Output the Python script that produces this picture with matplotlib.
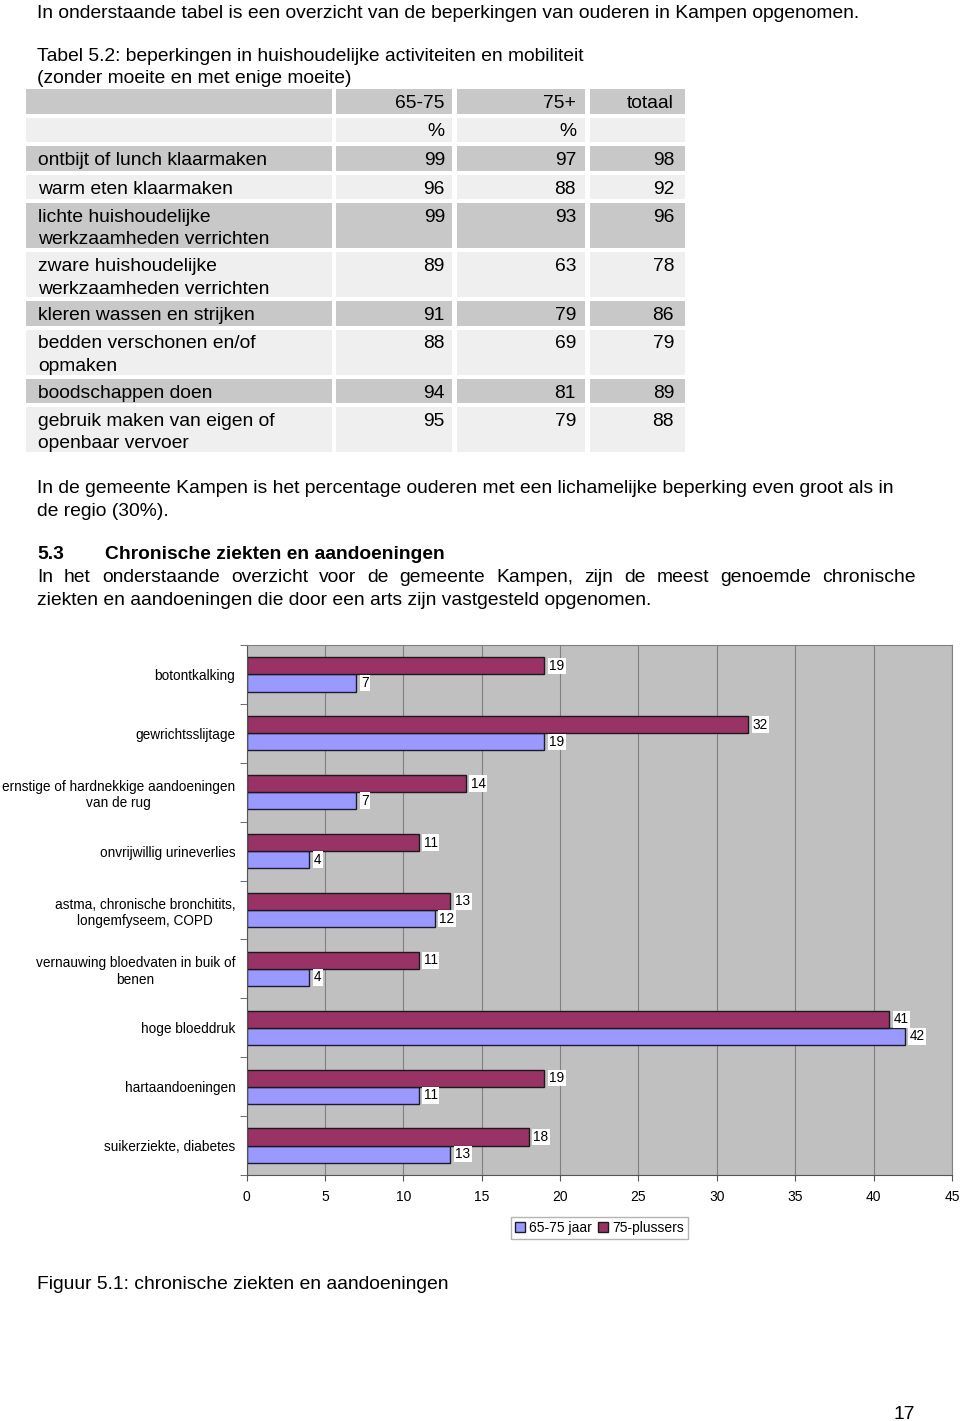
import numpy as np
import matplotlib
matplotlib.use('Agg')
import matplotlib.pyplot as plt
from matplotlib.patches import Rectangle

plt.rcParams['font.family'] = ['Liberation Sans', 'DejaVu Sans']

# --- table 5.2 data ---
col_headers = ['65-75', '75+', 'totaal']
col_units = ['%', '%', '']
row_labels = ['ontbijt of lunch klaarmaken',
              'warm eten klaarmaken',
              'lichte huishoudelijke\nwerkzaamheden verrichten',
              'zware huishoudelijke\nwerkzaamheden verrichten',
              'kleren wassen en strijken',
              'bedden verschonen en/of\nopmaken',
              'boodschappen doen',
              'gebruik maken van eigen of\nopenbaar vervoer']
pct_6575 = [99, 96, 99, 89, 91, 88, 94, 95]
pct_75plus = [97, 88, 93, 63, 79, 69, 81, 79]
pct_total = [98, 92, 96, 78, 86, 79, 89, 88]

# --- figure 5.1 data ---
conditions = ['botontkalking',
              'gewrichtsslijtage',
              'ernstige of hardnekkige aandoeningen\nvan de rug',
              'onvrijwillig urineverlies',
              'astma, chronische bronchitits,\nlongemfyseem, COPD',
              'vernauwing bloedvaten in buik of\nbenen',
              'hoge bloeddruk',
              'hartaandoeningen',
              'suikerziekte, diabetes']
val_6575 = [7, 19, 7, 4, 12, 4, 42, 11, 13]
val_75plus = [19, 32, 14, 11, 13, 11, 41, 19, 18]
x_ticks = [0, 5, 10, 15, 20, 25, 30, 35, 40, 45]

W, H = 960, 1421
fig = plt.figure(figsize=(W / 100, H / 100), dpi=100)
page = fig.add_axes([0, 0, 1, 1])
page.set_xlim(0, W)
page.set_ylim(H, 0)
page.axis('off')

FS = 13.9
dark, light = '#c8c8c8', '#efefef'

page.text(37, 18, 'In onderstaande tabel is een overzicht van de beperkingen van ouderen in Kampen opgenomen.',
          fontsize=FS, va='baseline')
page.text(37, 61, 'Tabel 5.2: beperkingen in huishoudelijke activiteiten en mobiliteit', fontsize=FS, va='baseline')
page.text(37, 83, '(zonder moeite en met enige moeite)', fontsize=FS, va='baseline')

# table
cols = [(26, 332), (336, 452), (457, 585), (590, 685)]
num_x = [445, 576, 674]
rows = [('', col_headers), ('', col_units)]
for lab, a, b, c in zip(row_labels, pct_6575, pct_75plus, pct_total):
    rows.append((lab, [str(a), str(b), str(c)]))

top = 89
for i, (lab, vals) in enumerate(rows):
    nlines = lab.count('\n') + 1
    h = 24.5 + 20.5 * (nlines - 1)
    fc = dark if i % 2 == 0 else light
    for x0, x1 in cols:
        page.add_patch(Rectangle((x0, top), x1 - x0, h, facecolor=fc, edgecolor='none'))
    for k, line in enumerate(lab.split('\n')):
        page.text(38, top + 19 + 22.5 * k, line, fontsize=FS, va='baseline')
    for x, v in zip(num_x, vals):
        page.text(x, top + 19, v, fontsize=FS, va='baseline', ha='right')
    top += h + 4

page.text(37, 493, 'In de gemeente Kampen is het percentage ouderen met een lichamelijke beperking even groot als in',
          fontsize=FS, va='baseline')
page.text(37, 516, 'de regio (30%).', fontsize=FS, va='baseline')
page.text(37, 559, '5.3', fontsize=FS, va='baseline', fontweight='bold')
page.text(105, 559, 'Chronische ziekten en aandoeningen', fontsize=FS, va='baseline', fontweight='bold')

# justified line
renderer = fig.canvas.get_renderer()
words = 'In het onderstaande overzicht voor de gemeente Kampen, zijn de meest genoemde chronische'.split()
objs = [page.text(0, 582, w, fontsize=FS, va='baseline') for w in words]
widths = [o.get_window_extent(renderer).width for o in objs]
gap = (916 - 37 - sum(widths)) / (len(words) - 1)
xx = 37
for o, w in zip(objs, widths):
    o.set_x(xx)
    xx += w + gap
page.text(37, 605, 'ziekten en aandoeningen die door een arts zijn vastgesteld opgenomen.', fontsize=FS, va='baseline')

page.text(37, 1289, 'Figuur 5.1: chronische ziekten en aandoeningen', fontsize=FS, va='baseline')
page.text(915, 1419, '17', fontsize=FS, va='baseline', ha='right')

# chart
ax = fig.add_axes([246.5 / W, 1 - 1175 / H, (952 - 246.5) / W, (1175 - 645) / H])
ax.set_facecolor('#c0c0c0')
y = np.arange(len(conditions))
bh = 0.29
ax.barh(y + bh / 2, val_6575, height=bh, color='#9999ff', edgecolor='#1a1a33', linewidth=1, label='65-75 jaar')
ax.barh(y - bh / 2, val_75plus, height=bh, color='#993366', edgecolor='#1a1a1a', linewidth=1, label='75-plussers')
for yi, v in zip(y + bh / 2, val_6575):
    ax.text(v + 0.3, yi, str(v), va='center', ha='left', fontsize=9.8,
            bbox=dict(facecolor='white', edgecolor='none', pad=1.0))
for yi, v in zip(y - bh / 2, val_75plus):
    ax.text(v + 0.3, yi, str(v), va='center', ha='left', fontsize=9.8,
            bbox=dict(facecolor='white', edgecolor='none', pad=1.0))

ax.set_xlim(0, 45)
ax.set_ylim(len(conditions) - 0.5, -0.5)
ax.set_xticks(x_ticks)
ax.set_xticklabels([str(t) for t in x_ticks], fontsize=10)
ax.set_yticks(y)
ax.set_yticklabels(conditions, fontsize=9.8)
for lbl in ax.get_yticklabels():
    lbl.set_multialignment('center')
ax.set_yticks(np.arange(-0.5, len(conditions)), minor=True)
ax.tick_params(axis='y', which='major', length=0, pad=8)
ax.tick_params(axis='y', which='minor', length=5, color='#555555')
ax.tick_params(axis='x', length=4, color='#555555', pad=7)
ax.grid(axis='x', color='#808080', linewidth=0.8)
ax.set_axisbelow(True)
for s in ['left', 'bottom']:
    ax.spines[s].set_color('#555555')
for s in ['top', 'right']:
    ax.spines[s].set_color('#808080')

h, l = ax.get_legend_handles_labels()
leg = fig.legend(h, l, loc='center', bbox_to_anchor=(599.5 / W, 1 - 1228 / H), ncol=2,
                 fontsize=10, frameon=True, fancybox=False, edgecolor='#a0a0a0',
                 handlelength=0.75, handleheight=0.75, handletextpad=0.3, columnspacing=0.4,
                 borderpad=0.3, borderaxespad=0)

fig.savefig('out.png', dpi=100)
